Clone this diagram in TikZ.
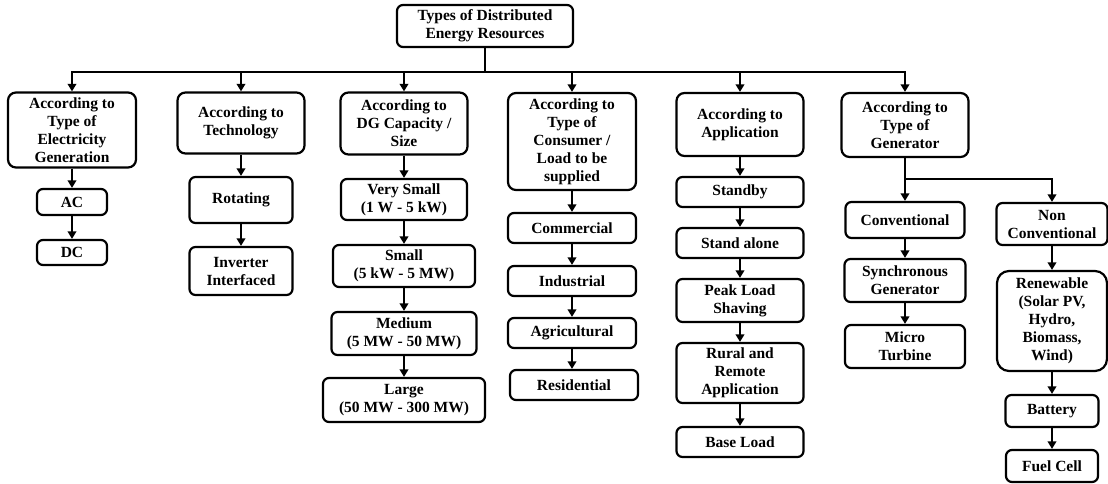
\documentclass[tikz,border=0pt]{standalone}
\usepackage{fontspec}
\setmainfont{Liberation Serif}
\usetikzlibrary{arrows.meta}
\begin{document}
\begin{tikzpicture}[x=1pt,y=-1pt,
  box/.style={draw, line width=2.2pt, rounded corners=6pt, align=center, inner sep=1pt,
    font=\fontsize{15.5}{18}\selectfont\bfseries},
  ln/.style={line width=2.7pt},
  arr/.style={line width=2.7pt, -{Triangle[length=7.5pt,width=8.5pt]}}]
\useasboundingbox (0,0) rectangle (1108,484);
% root
\node[box, minimum width=176pt, minimum height=42pt] (root) at (485,26) {Types of Distributed\\Energy Resources};
% categories
\node[box, rounded corners=8pt, minimum width=128pt, minimum height=75pt] (cat1) at (72,130) {According to\\Type of\\Electricity\\Generation};
\node[box, rounded corners=8pt, minimum width=127pt, minimum height=61pt] (cat2) at (241,123) {According to\\Technology};
\node[box, rounded corners=8pt, minimum width=127pt, minimum height=62pt] (cat3) at (404,123.5) {According to\\DG Capacity /\\Size};
\node[box, rounded corners=8pt, minimum width=128pt, minimum height=97pt] (cat4) at (572,141.5) {According to\\Type of\\Consumer /\\Load to be\\supplied};
\node[box, rounded corners=8pt, minimum width=127pt, minimum height=63pt] (cat5) at (740,124.5) {According to\\Application};
\node[box, rounded corners=8pt, minimum width=127pt, minimum height=64pt] (cat6) at (905,125) {According to\\Type of\\Generator};
% column 1
\node[box, minimum width=70pt, minimum height=26pt] (ac) at (72,202) {AC};
\node[box, minimum width=70pt, minimum height=25pt] (dc) at (72,252.5) {DC};
% column 2
\node[box, minimum width=103pt, minimum height=46pt] (rot) at (241,200) {Rotating};
\node[box, minimum width=103pt, minimum height=48pt] (inv) at (241,271) {Inverter\\Interfaced};
% column 3
\node[box, minimum width=126pt, minimum height=41pt] (vs) at (404,199.5) {Very Small\\(1 W - 5 kW)};
\node[box, minimum width=142pt, minimum height=42pt] (sm) at (404,266) {Small\\(5 kW - 5 MW)};
\node[box, minimum width=145pt, minimum height=43pt] (med) at (404,333.5) {Medium\\(5 MW - 50 MW)};
\node[box, minimum width=162pt, minimum height=44pt] (lg) at (404,400) {Large\\(50 MW - 300 MW)};
% column 4
\node[box, minimum width=128pt, minimum height=30pt] (com) at (572,228) {Commercial};
\node[box, minimum width=128pt, minimum height=30pt] (ind) at (572,281) {Industrial};
\node[box, minimum width=128pt, minimum height=30pt] (agr) at (572,333) {Agricultural};
\node[box, minimum width=128pt, minimum height=30pt] (res) at (574,385) {Residential};
% column 5
\node[box, minimum width=127pt, minimum height=30pt] (stb) at (740,192) {Standby};
\node[box, minimum width=127pt, minimum height=30pt] (sta) at (740,243) {Stand alone};
\node[box, minimum width=127pt, minimum height=43pt] (pk) at (740,300.5) {Peak Load\\Shaving};
\node[box, minimum width=127pt, minimum height=60pt] (rur) at (740,373) {Rural and\\Remote\\Application};
\node[box, minimum width=127pt, minimum height=30pt] (base) at (740,442) {Base Load};
% column 6
\node[box, minimum width=119pt, minimum height=36pt] (conv) at (905,220) {Conventional};
\node[box, minimum width=121pt, minimum height=43pt] (syn) at (905,280.5) {Synchronous\\Generator};
\node[box, minimum width=120pt, minimum height=43pt] (mic) at (905,346.5) {Micro\\Turbine};
% column 7
\node[box, minimum width=111pt, minimum height=42pt] (ncv) at (1052,224) {Non\\Conventional};
\node[box, rounded corners=12pt, minimum width=110pt, minimum height=100pt] (ren) at (1052,321) {Renewable\\(Solar PV,\\Hydro,\\Biomass,\\Wind)};
\node[box, minimum width=93pt, minimum height=32pt] (bat) at (1052,411) {Battery};
\node[box, minimum width=92pt, minimum height=32pt] (fc) at (1052,466) {Fuel Cell};
% bus
\coordinate (j) at (485,72);
\coordinate (k) at (905,179);
\draw[ln] (root.south) -- (j);
\draw[ln, line cap=rect] (cat1.north |- j) -- (cat6.north |- j);
\foreach \c in {cat1,cat2,cat3,cat4,cat5,cat6}
  \draw[arr] (\c.north |- j) -- (\c.north);
% chains
\draw[arr] (cat1) -- (ac);
\draw[arr] (ac) -- (dc);
\draw[arr] (cat2) -- (rot);
\draw[arr] (rot) -- (inv);
\draw[arr] (cat3) -- (vs);
\draw[arr] (vs) -- (sm);
\draw[arr] (sm) -- (med);
\draw[arr] (med) -- (lg);
\draw[arr] (cat4) -- (com);
\draw[arr] (com) -- (ind);
\draw[arr] (ind) -- (agr);
\draw[arr] (agr.south) -- (agr.south |- res.north);
\draw[arr] (cat5) -- (stb);
\draw[arr] (stb) -- (sta);
\draw[arr] (sta) -- (pk);
\draw[arr] (pk) -- (rur);
\draw[arr] (rur) -- (base);
% generator branch
\draw[ln] (cat6.south) -- (k);
\draw[ln, line cap=rect] (k) -- (ncv.north |- k);
\draw[arr] (k) -- (conv.north);
\draw[arr] (ncv.north |- k) -- (ncv.north);
\draw[arr] (conv) -- (syn);
\draw[arr] (syn) -- (mic);
\draw[arr] (ncv) -- (ren);
\draw[arr] (ren) -- (bat);
\draw[arr] (bat) -- (fc);
\end{tikzpicture}
\end{document}
